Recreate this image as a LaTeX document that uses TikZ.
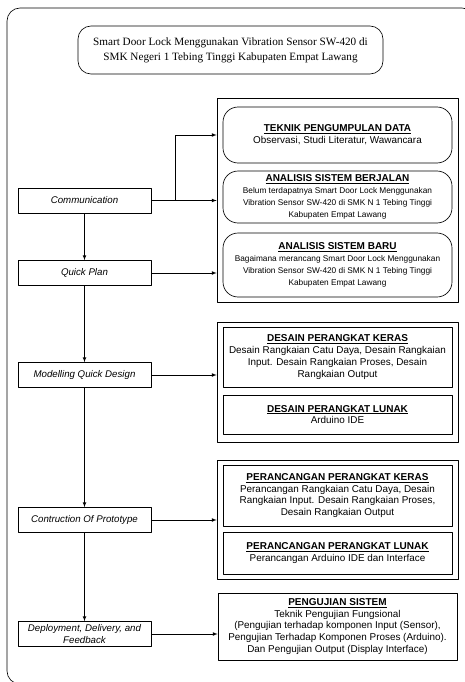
\documentclass[tikz,border=0pt]{standalone}
\usepackage{fontspec}
\setmainfont{Liberation Sans}
\newfontfamily\titlefont{Liberation Serif}
\newcommand{\judul}[1]{{\fontsize{10}{12}\selectfont\underline{\textbf{#1}}}}
\tikzset{
  stage/.style={draw, minimum width=133pt, minimum height=25pt, inner sep=1pt,
    align=center, font=\fontsize{9.7}{11.5}\selectfont\itshape},
  group/.style={draw, inner sep=0pt},
  roundbox/.style={draw, rounded corners=15pt, inner sep=0pt, align=center,
    minimum width=229pt},
  sqbox/.style={draw, inner sep=0pt, align=center, minimum width=229pt},
  body/.style={font=\fontsize{9.9}{11.8}\selectfont},
  small/.style={font=\fontsize{8.3}{12}\selectfont},
}
\begin{document}
\begin{tikzpicture}[x=1pt, y=-1pt, >=latex, line join=round, line width=0.65pt]
  \useasboundingbox (0,0) rectangle (465,682);
  % bingkai luar
  \draw[rounded corners=13pt] (7,8) rectangle (475,684);
  % judul
  \node[draw, rounded corners=13pt, minimum width=305pt, minimum height=48pt, align=center,
    font=\titlefont\fontsize{11.2}{15}\selectfont] (judul) at (230.5,50)
    {Smart Door Lock Menggunakan Vibration Sensor SW-420 di\\
     SMK Negeri 1 Tebing Tinggi Kabupaten Empat Lawang};
  % tahapan
  \node[stage] (comm) at (84.5,200.5) {Communication};
  \node[stage] (plan) at (84.5,273) {Quick Plan};
  \node[stage] (model) at (84.5,375) {Modelling Quick Design};
  \node[stage] (cons) at (84.5,520) {Contruction Of Prototype};
  \node[stage] (deploy) at (84.5,634) {Deployment, Delivery, and\\ Feedback};
  % kelompok 1
  \node[group, minimum width=241pt, minimum height=204pt] (g1) at (337.5,200) {};
  \node[roundbox, body, minimum height=56pt] (tek) at (337.5,135)
    {\judul{TEKNIK PENGUMPULAN DATA}\\ Observasi, Studi Literatur, Wawancara};
  \node[roundbox, small, minimum height=52pt] (lama) at (337.5,197)
    {\judul{ANALISIS SISTEM BERJALAN}\\
     Belum terdapatnya Smart Door Lock Menggunakan\\
     Vibration Sensor SW-420 di SMK N 1 Tebing Tinggi\\
     Kabupaten Empat Lawang};
  \node[roundbox, small, minimum height=64pt] (baru) at (337.5,265)
    {\judul{ANALISIS SISTEM BARU}\\
     Bagaimana merancang Smart Door Lock Menggunakan\\
     Vibration Sensor SW-420 di SMK N 1 Tebing Tinggi\\
     Kabupaten Empat Lawang};
  % kelompok 2
  \node[group, minimum width=241pt, minimum height=120pt] (g2) at (337.5,382) {};
  \node[sqbox, body, minimum height=60pt] (dkeras) at (337.5,357)
    {\judul{DESAIN PERANGKAT KERAS}\\
     Desain Rangkaian Catu Daya, Desain Rangkaian\\
     Input. Desain Rangkaian Proses, Desain\\
     Rangkaian Output};
  \node[sqbox, body, minimum height=39pt] (dlunak) at (337.5,414.5)
    {\judul{DESAIN PERANGKAT LUNAK}\\ Arduino IDE};
  % kelompok 3
  \node[group, minimum width=241pt, minimum height=119pt] (g3) at (337.5,519.5) {};
  \node[sqbox, body, minimum height=61pt] (pkeras) at (337.5,495.5)
    {\judul{PERANCANGAN PERANGKAT KERAS}\\
     Perancangan Rangkaian Catu Daya, Desain\\
     Rangkaian Input. Desain Rangkaian Proses,\\
     Desain Rangkaian Output};
  \node[sqbox, body, minimum height=42pt] (plunak) at (337.5,553)
    {\judul{PERANCANGAN PERANGKAT LUNAK}\\ Perancangan Arduino IDE dan Interface};
  % kelompok 4
  \node[group, body, align=center, minimum width=239pt, minimum height=67pt] (uji) at (337.5,626.5)
    {\judul{PENGUJIAN SISTEM}\\
     Teknik Pengujian Fungsional\\
     (Pengujian terhadap komponen Input (Sensor),\\
     Pengujian Terhadap Komponen Proses (Arduino).\\
     Dan Pengujian Output (Display Interface)};
  % panah
  \draw[->] (comm) -- (plan);
  \draw[->] (plan) -- (model);
  \draw[->] (model) -- (cons);
  \draw[->] (cons) -- (deploy);
  \coordinate (cab) at (175,200.5);
  \draw[->] (comm.east) -- (comm.east -| g1.west);
  \draw[->] (cab) |- (tek.west -| g1.west);
  \draw[->] (plan.east) -- (plan.east -| g1.west);
  \draw[->] (model.east) -- (model.east -| g2.west);
  \draw[->] (cons.east) -- (cons.east -| g3.west);
  \draw[->] (deploy.east) -- (deploy.east -| uji.west);
\end{tikzpicture}
\end{document}
